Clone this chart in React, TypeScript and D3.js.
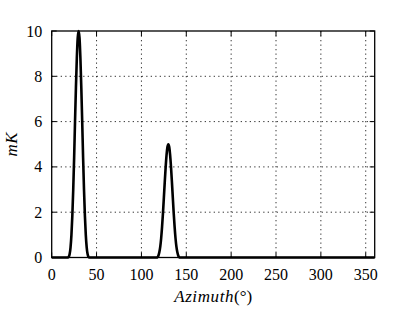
import { useEffect, useRef } from 'react';
import * as d3 from 'd3';

// azimuth samples (degrees) and beam temperature (mK)
const azimuth = [
  0,
  18, 19, 20, 21, 22, 23, 24, 25, 26, 27, 28, 29, 30,
  31, 32, 33, 34, 35, 36, 37, 38, 39, 40, 41, 42,
  117, 118, 119, 120, 121, 122, 123, 124, 125, 126, 127, 128, 129, 130,
  131, 132, 133, 134, 135, 136, 137, 138, 139, 140, 141, 142, 143,
  360,
];
const mK = [
  0,
  0, 0.03, 0.15, 0.45, 1.0, 1.85, 3.0, 4.4, 6.0, 7.5, 8.8, 9.7, 10,
  9.7, 8.8, 7.5, 6.0, 4.4, 3.0, 1.85, 1.0, 0.45, 0.15, 0.03, 0,
  0, 0.02, 0.09, 0.24, 0.48, 0.85, 1.35, 1.95, 2.63, 3.33, 3.98, 4.52, 4.88, 5,
  4.88, 4.52, 3.98, 3.33, 2.63, 1.95, 1.35, 0.85, 0.48, 0.24, 0.09, 0.02, 0,
  0,
];
const xTicks = [0, 50, 100, 150, 200, 250, 300, 350];
const yTicks = [0, 2, 4, 6, 8, 10];

const W = 416;
const H = 311;
const margin = { top: 31, right: 41.3, bottom: 53.5, left: 51.7 };
const font = '"Liberation Serif", "DejaVu Serif", serif';

const App = () => {
  const ref = useRef<SVGSVGElement>(null);

  useEffect(() => {
    const svg = d3.select(ref.current);
    svg.selectAll('*').remove();

    const x = d3.scaleLinear().domain([0, 360]).range([margin.left, W - margin.right]);
    const y = d3.scaleLinear().domain([0, 10]).range([H - margin.bottom, margin.top]);
    const [x0, x1] = x.range();
    const [y0, y1] = y.range();

    svg.append('rect').attr('width', W).attr('height', H).attr('fill', 'white');

    // dotted grid
    const grid = svg.append('g').attr('stroke', '#000').attr('stroke-width', 0.8).attr('stroke-dasharray', '1.3,3.2');
    grid
      .selectAll('.gx')
      .data(xTicks.filter((t) => t > 0))
      .enter()
      .append('line')
      .attr('x1', (d) => x(d))
      .attr('x2', (d) => x(d))
      .attr('y1', y1)
      .attr('y2', y0);
    grid
      .selectAll('.gy')
      .data(yTicks.filter((t) => t > 0 && t < 10))
      .enter()
      .append('line')
      .attr('x1', x0)
      .attr('x2', x1)
      .attr('y1', (d) => y(d))
      .attr('y2', (d) => y(d));

    // inward ticks on all four sides
    const ticks = svg.append('g').attr('stroke', '#000').attr('stroke-width', 1);
    xTicks.forEach((t) => {
      ticks.append('line').attr('x1', x(t)).attr('x2', x(t)).attr('y1', y0).attr('y2', y0 - 5);
      ticks.append('line').attr('x1', x(t)).attr('x2', x(t)).attr('y1', y1).attr('y2', y1 + 5);
    });
    yTicks.forEach((t) => {
      ticks.append('line').attr('x1', x0).attr('x2', x0 + 5).attr('y1', y(t)).attr('y2', y(t));
      ticks.append('line').attr('x1', x1).attr('x2', x1 - 5).attr('y1', y(t)).attr('y2', y(t));
    });

    // curve
    const line = d3
      .line<number>()
      .x((d, i) => x(azimuth[i]))
      .y((d) => y(d))
      .curve(d3.curveMonotoneX);
    svg
      .append('path')
      .datum(mK)
      .attr('d', line)
      .attr('fill', 'none')
      .attr('stroke', '#000')
      .attr('stroke-width', 2.6)
      .attr('stroke-linejoin', 'round');

    // frame
    svg
      .append('rect')
      .attr('x', x0)
      .attr('y', y1)
      .attr('width', x1 - x0)
      .attr('height', y0 - y1)
      .attr('fill', 'none')
      .attr('stroke', '#000')
      .attr('stroke-width', 1.3);

    // tick labels
    svg
      .selectAll('.xl')
      .data(xTicks)
      .enter()
      .append('text')
      .attr('x', (d) => x(d))
      .attr('y', y0 + 22.5)
      .attr('text-anchor', 'middle')
      .style('font-family', font)
      .style('font-size', '16px')
      .text((d) => d);
    svg
      .selectAll('.yl')
      .data(yTicks)
      .enter()
      .append('text')
      .attr('x', x0 - 9.5)
      .attr('y', (d) => y(d) + 5.5)
      .attr('text-anchor', 'end')
      .style('font-family', font)
      .style('font-size', '16px')
      .text((d) => d);

    // axis labels
    const xl = svg
      .append('text')
      .attr('x', (x0 + x1) / 2)
      .attr('y', 302)
      .attr('text-anchor', 'middle')
      .style('font-family', font)
      .style('font-size', '17px');
    xl.append('tspan').style('font-style', 'italic').style('letter-spacing', '0.6px').text('Azimuth');
    xl.append('tspan').text('(°)');

    svg
      .append('text')
      .attr('transform', `translate(17,${(y0 + y1) / 2}) rotate(-90)`)
      .attr('text-anchor', 'middle')
      .style('font-family', font)
      .style('font-size', '17px')
      .style('font-style', 'italic')
      .style('letter-spacing', '0.5px')
      .text('mK');
  }, []);

  return (
    <svg
      ref={ref}
      width={W}
      height={H}
      style={{ position: 'absolute', left: 0, top: 0, display: 'block' }}
    />
  );
};

export default App;
